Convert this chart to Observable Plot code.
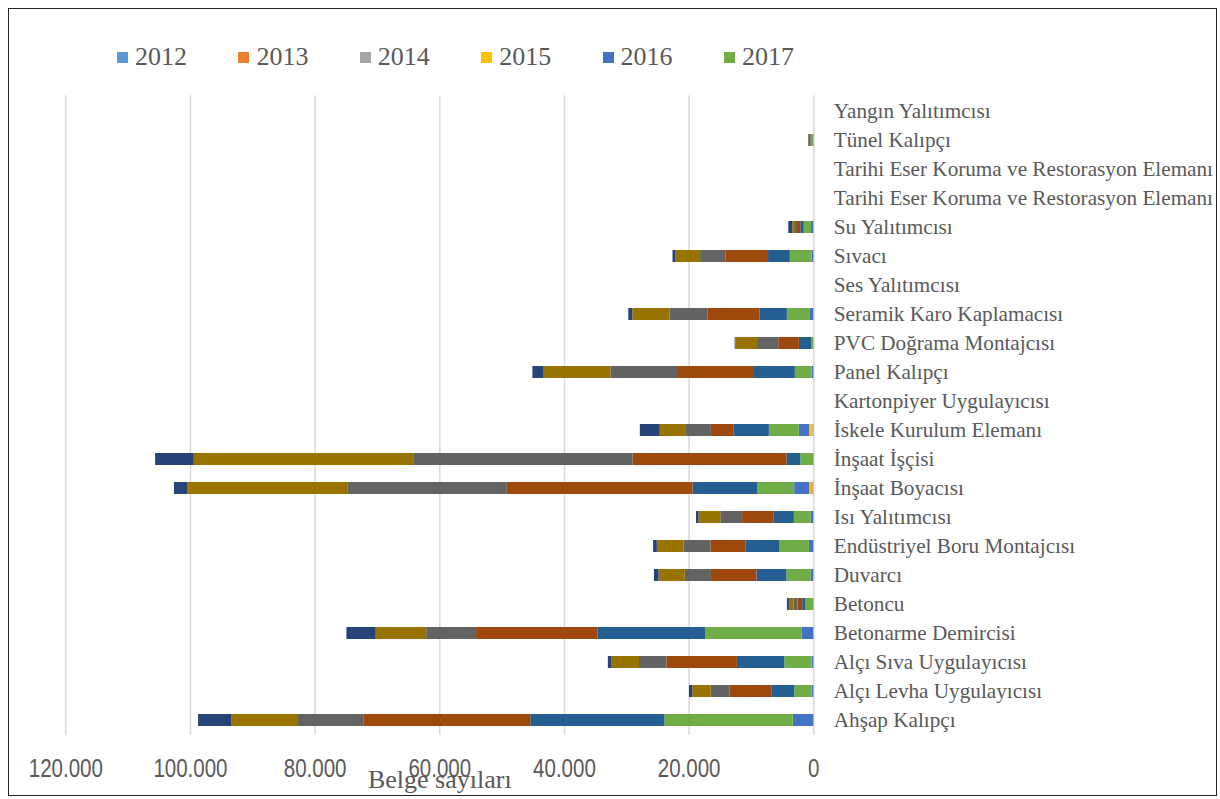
<!DOCTYPE html>
<html>
<head>
<meta charset="utf-8">
<script src="https://cdn.jsdelivr.net/npm/d3@7"></script>
<script src="https://cdn.jsdelivr.net/npm/@observablehq/plot@0.6"></script>
<style>
  body { margin: 0; background: #fff; }
  #frame { position: absolute; left: 8px; top: 8px; width: 1207px; height: 786px;
           border: 1px solid #262626; background: #fff; overflow: hidden; }
  #legend { position: relative; height: 80px; }
  .item { position: absolute; top: 33px; height: 30px; display: flex; align-items: center; }
  .sw { width: 11px; height: 11px; margin-right: 7px; }
  .lt { font-family: "Liberation Serif", "Times New Roman", serif; font-size: 26px; line-height: 30px; color: #595959; }
  #chart svg { overflow: visible; }
</style>
</head>
<body>
<div id="frame"><div id="legend"></div><div id="chart"></div></div>
<script>
// Categories, top to bottom
const categories = [
  "Yangın Yalıtımcısı",
  "Tünel Kalıpçı",
  "Tarihi Eser Koruma ve Restorasyon Elemanı",
  "Tarihi Eser Koruma ve Restorasyon Elemanı",
  "Su Yalıtımcısı",
  "Sıvacı",
  "Ses Yalıtımcısı",
  "Seramik Karo Kaplamacısı",
  "PVC Doğrama Montajcısı",
  "Panel Kalıpçı",
  "Kartonpiyer Uygulayıcısı",
  "İskele Kurulum Elemanı",
  "İnşaat İşçisi",
  "İnşaat Boyacısı",
  "Isı Yalıtımcısı",
  "Endüstriyel Boru Montajcısı",
  "Duvarcı",
  "Betoncu",
  "Betonarme Demircisi",
  "Alçı Sıva Uygulayıcısı",
  "Alçı Levha Uygulayıcısı",
  "Ahşap Kalıpçı"
];

const years = ["2012","2013","2014","2015","2016","2017","2018","2019","2020","2021","2022"];
const legendYears = ["2012","2013","2014","2015","2016","2017"];
const colors = ["#5B9BD5","#ED7D31","#A5A5A5","#FFC000","#4472C4","#70AD47",
                "#255E91","#9E480E","#636363","#997300","#264478"];

// Values per year, aligned with categories
const v2012 = [0,0,0,0,0,0,0,0,0,0,0,50,0,50,0,0,0,0,0,0,0,0];
const v2013 = [0,0,0,0,0,0,0,0,0,0,0,80,0,100,0,0,0,0,0,0,0,0];
const v2014 = [0,0,0,0,0,0,0,0,0,0,0,120,0,200,0,0,0,0,0,0,0,0];
const v2015 = [0,0,0,0,0,0,0,0,0,0,0,430,0,320,0,0,0,0,0,0,0,0];
const v2016 = [0,50,0,0,370,260,0,640,0,260,0,1650,50,2400,420,700,420,50,1900,260,260,3300];
const v2017 = [0,250,0,0,1170,3500,0,3600,320,2700,0,4800,2040,5900,2700,4800,3900,1250,15400,4400,2800,20600];
const v2018 = [0,150,0,0,550,3500,0,4400,2000,6700,0,5700,2200,10400,3300,5400,4800,480,17300,7600,3600,21500];
const v2019 = [0,30,0,0,530,6800,0,8300,3300,12200,0,3600,24700,29800,5000,5600,7300,740,19500,11300,6800,26800];
const v2020 = [0,330,0,0,320,4100,0,6100,3400,10700,0,4000,35200,25600,3500,4300,4200,640,8000,4400,3000,10600];
const v2021 = [0,30,0,0,430,4000,0,6000,3500,10700,0,4200,35200,25700,3500,4300,4200,750,8100,4400,2950,10600];
const v2022 = [0,0,0,0,640,420,0,640,100,1800,0,3200,6200,2100,400,600,740,320,4700,600,530,5300];

const xTicks = [0, 20000, 40000, 60000, 80000, 100000, 120000];
const axisTitle = "Belge sayıları";

const series = [v2012,v2013,v2014,v2015,v2016,v2017,v2018,v2019,v2020,v2021,v2022];
const rows = [];
categories.forEach((c, i) => years.forEach((y, j) => rows.push({i, year: y, value: series[j][i]})));

const fmt = d3.formatLocale({decimal: ",", thousands: ".", grouping: [3], currency: ["", ""]}).format(",");

// Legend
const legend = d3.select("#legend");
legendYears.forEach((y, k) => {
  const it = legend.append("div").attr("class", "item").style("left", (108 + k * 121.4) + "px");
  it.append("div").attr("class", "sw").style("background", colors[years.indexOf(y)]);
  it.append("span").attr("class", "lt").text(y);
});

const chart = Plot.plot({
  width: 1207,
  height: 706,
  marginLeft: 56.3,
  marginRight: 402.7,
  marginTop: 6.2,
  marginBottom: 60.3,
  style: {background: "transparent", overflow: "visible"},
  x: {domain: [0, 120000], reverse: true, label: null},
  y: {domain: d3.range(categories.length), paddingInner: 0.6, paddingOuter: 0.3, label: null},
  color: {domain: years, range: colors},
  marks: [
    Plot.gridX(xTicks, {stroke: "#d9d9d9", strokeOpacity: 1, strokeWidth: 1.5}),
    Plot.barX(rows, {x: "value", y: "i", fill: "year"}),
    Plot.axisX({ticks: xTicks, tickSize: 0, tickPadding: 24.5, tickFormat: fmt, label: null,
      fontFamily: "'Liberation Sans', Arial, sans-serif",
      fontSize: 25, fill: "#595959"}),
    Plot.axisY({anchor: "right", tickSize: 0, tickPadding: 20, tickFormat: i => categories[i], label: null,
      fontFamily: "'Liberation Serif', 'Times New Roman', serif", fontSize: 21.2, fill: "#595959"}),
    Plot.text([axisTitle], {x: () => 60000, text: d => d, frameAnchor: "bottom", dy: 53,
      fontFamily: "'Liberation Serif', 'Times New Roman', serif", fontSize: 26, fill: "#595959"})
  ]
});
document.getElementById("chart").appendChild(chart);

// Narrow the x tick labels (reference uses a condensed sans face)
chart.querySelectorAll('[aria-label="x-axis tick label"] text').forEach(t => {
  const w = t.getComputedTextLength();
  if (w > 0) {
    t.setAttribute("textLength", (w * 0.82).toFixed(2));
    t.setAttribute("lengthAdjust", "spacingAndGlyphs");
  }
});
</script>
</body>
</html>
